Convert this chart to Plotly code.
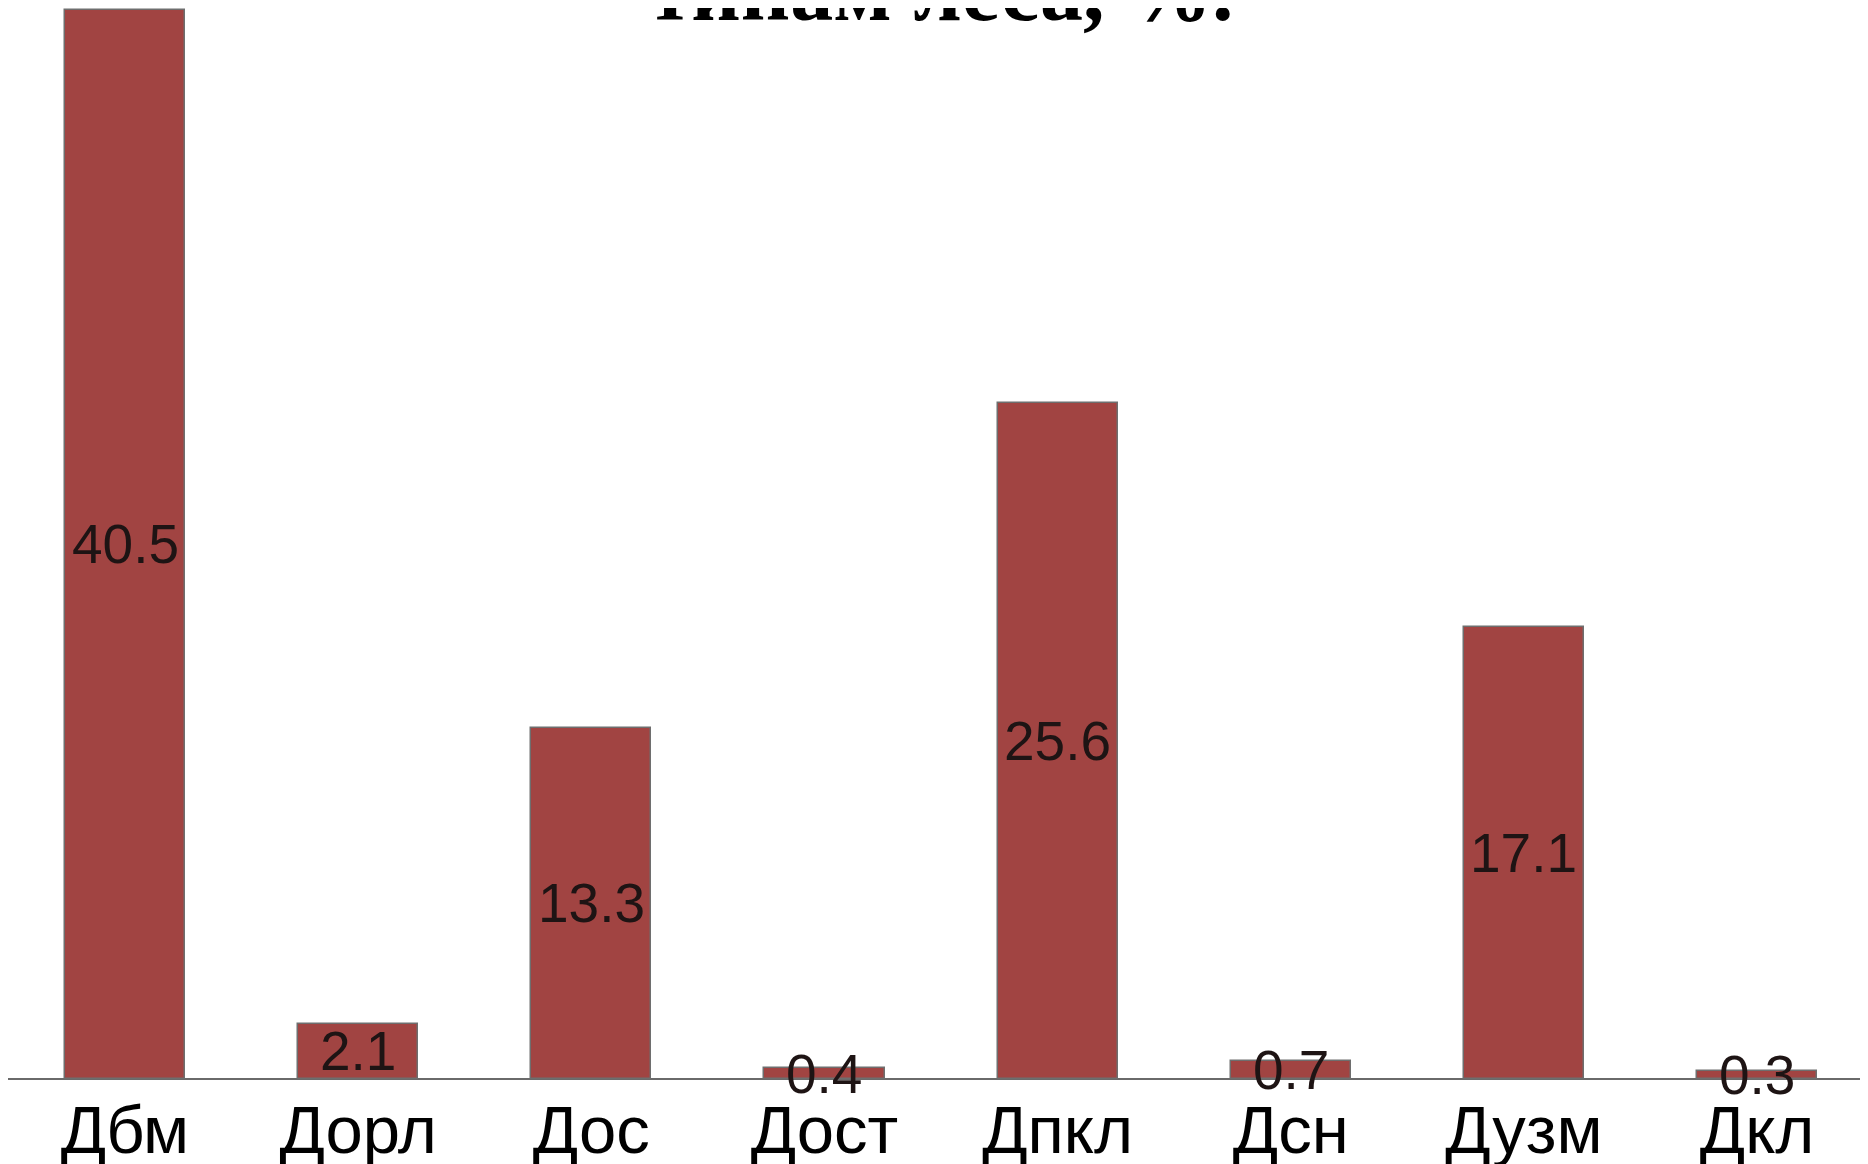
import plotly.graph_objects as go

categories = ["Дбм", "Дорл", "Дос", "Дост", "Дпкл", "Дсн", "Дузм", "Дкл"]
values = [40.5, 2.1, 13.3, 0.4, 25.6, 0.7, 17.1, 0.3]
value_labels = ["40.5", "2.1", "13.3", "0.4", "25.6", "0.7", "17.1", "0.3"]
title_text = "<b>типам леса, %.</b>"

W, H = 1868, 1164
ml, mr, mt, mb = 0, 0, 0, 93
plot_h = H - mt - mb

fig = go.Figure()
fig.add_trace(go.Bar(
    x=categories, y=values, width=0.515,
    marker=dict(color="#A14442", line=dict(color="#6e6e6e", width=1.5)),
    hoverinfo="skip",
))
for cat, val, lab in zip(categories, values, value_labels):
    fig.add_annotation(
        x=cat, y=val / 2, text=lab, showarrow=False, yshift=0,
        xanchor="center", yanchor="middle",
        font=dict(family="Liberation Sans, Arial", size=55, color="#1e1414"),
    )

fig.add_annotation(
    text=title_text, xref="paper", yref="paper", x=0.4995, y=1 - 33 / plot_h,
    xanchor="center", yanchor="bottom", showarrow=False,
    font=dict(family="Liberation Serif, Times New Roman", size=86, color="#000000"),
)

fig.update_layout(
    width=W, height=H, margin=dict(l=ml, r=mr, t=mt, b=mb),
    paper_bgcolor="white", plot_bgcolor="white", showlegend=False,
    bargap=0,
)
fig.update_xaxes(
    range=[-0.5018, 7.51], showgrid=False, zeroline=False,
    showline=False, ticks="", automargin=False, ticklabelstandoff=6,
    tickfont=dict(family="Liberation Sans, Arial", size=67, color="#000000"),
)
fig.update_yaxes(
    range=[0, 40.56], showgrid=False, zeroline=True, zerolinecolor="#6a6a6a",
    zerolinewidth=2, showline=False, showticklabels=False, ticks="",
)
fig.write_html("out.html")
